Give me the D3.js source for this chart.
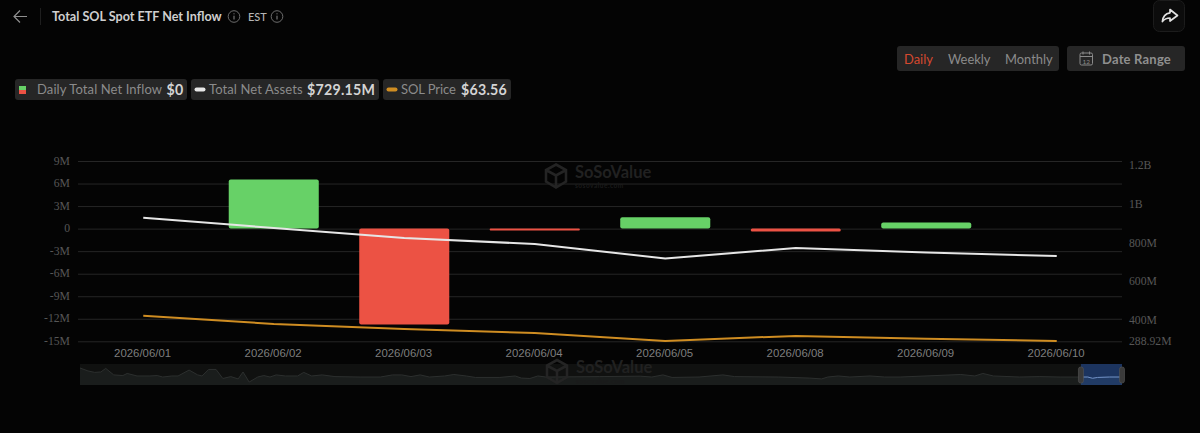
<!DOCTYPE html>
<html>
<head>
<meta charset="utf-8">
<title>Total SOL Spot ETF Net Inflow</title>
<script src="https://cdn.jsdelivr.net/npm/d3@7"></script>
<style>
  html, body { margin: 0; padding: 0; background: #040404; overflow: hidden; }
  svg { display: block; }
  text { font-family: Lato, "Open Sans", sans-serif; }
</style>
</head>
<body>
<svg id="chart" width="1200" height="433"></svg>
<script>
// Daily figures
const dates = ["2026/06/01","2026/06/02","2026/06/03","2026/06/04","2026/06/05","2026/06/08","2026/06/09","2026/06/10"];
const netInflowM = [0, 6.55, -12.75, -0.2, 1.5, -0.4, 0.8, 0];
const netAssetsM = [927, 874, 822, 791, 716, 770, 747, 729.15];
const solPrice = [75.6, 71.7, 69.3, 67.4, 63.6, 66.0, 64.6, 63.56];

// Axis ticks
const inflowTicks = [9, 6, 3, 0, -3, -6, -9, -12, -15];
const assetTicks = [1200, 1000, 800, 600, 400, 288.92];

// Full-history overview strip: day number and relative level
const overviewDays = [0,1.3,2.4,3.4,4.2,5.5,7,7.7,9.3,11.4,12.6,13.5,15,16,17.8,19.2,19.9,21,22.2,23.3,24.6,25.8,26.6,27.6,29,30,31,32,33.5,35.5,36.5,37.8,39.5,41.6,45.7,49,51,52.5,54,55.5,57,59.5,61,63,64.5,68.5,71,72,73.4,74.7,76,84.8,91.4,93.3,95.1,96.6,101,104.9,106.8,114,119,121,122,123.7,125.6,128.9,131.3,133.8,143.7,146,147.3,149,153.3,156.6,159.9,163.3,164.4,165.2,166,168,170];
const overviewLevels = [81,67,60,62,79,48,45,55,43,43,45,38,43,43,71,48,43,74,74,31,40,29,62,14,38,45,38,48,43,43,60,43,48,40,38,38,48,48,40,48,38,43,50,43,36,36,43,33,31,43,38,40,42,38,48,36,38,48,40,38,33,29,38,43,38,43,38,38,50,43,55,43,38,40,38,38,38,32,36,38,38];

// Legend entries
const legendItems = [
  { name: "Daily Total Net Inflow", value: "$0", x: 15, w: 172, nameX: 37, valueX: 166.5 },
  { name: "Total Net Assets", value: "$729.15M", x: 191, w: 188, nameX: 209, valueX: 307 },
  { name: "SOL Price", value: "$63.56", x: 383, w: 128, nameX: 401, valueX: 461 }
];
const periods = [["Daily", 904, "#d5492f"], ["Weekly", 948, "#8b8b8b"], ["Monthly", 1005, "#8b8b8b"]];

const GREEN = "#67d167", RED = "#ec5244", WHITE = "#e6e6e6", ORANGE = "#cf8d22";
const svg = d3.select("#chart");

// Scales
const x = d3.scaleBand().domain(dates).range([78, 1122]);
const yInflow = d3.scaleLinear().domain([-15, 9]).range([341.3, 161]);
const yAssets = d3.scaleLinear().domain([288.92, 1200]).range([341, 165]);
const yPrice = d3.scaleLinear().domain([63.56, 150]).range([341, 160]);
const barW = x.bandwidth() * 0.69;
const cx = d => x(d) + x.bandwidth() / 2;

// Header
const header = svg.append("g");
header.append("path").attr("d", "M27 16.5H14.5M20 10.5l-6 6 6 6")
  .attr("fill", "none").attr("stroke", "#8f8f8f").attr("stroke-width", 1.2);
header.append("line").attr("x1", 40.5).attr("x2", 40.5).attr("y1", 8).attr("y2", 25).attr("stroke", "#1e1e1e");
header.append("text").attr("x", 52).attr("y", 21).attr("font-size", 12.6).attr("font-weight", 700)
  .attr("fill", "#cfcfcf").text("Total SOL Spot ETF Net Inflow");
header.append("text").attr("x", 248).attr("y", 20.5).attr("font-size", 11).attr("font-weight", 500)
  .attr("fill", "#b5b5b5").text("EST");
[234, 277].forEach(c => {
  const g = header.append("g").attr("transform", `translate(${c},16.5)`);
  g.append("circle").attr("r", 5.8).attr("fill", "none").attr("stroke", "#777").attr("stroke-width", 0.9);
  g.append("path").attr("d", "M0 -0.8V3M0 -3.2V-2.2").attr("stroke", "#888").attr("stroke-width", 1);
});

// Share button
svg.append("rect").attr("x", 1153.5).attr("y", 0.5).attr("width", 31).attr("height", 31).attr("rx", 6)
  .attr("fill", "#0c0c0c").attr("stroke", "#1c1c1c");
svg.append("path").attr("d", "M1170 9.5l7.5 6-7.5 5.5v-3c-3.4 0-5.6 1-7.6 3.6 .4-4.8 3.2-8.2 7.6-8.8z")
  .attr("fill", "none").attr("stroke", "#e2e2e2").attr("stroke-width", 1.7).attr("stroke-linejoin", "round");

// Period switch and date range
svg.append("rect").attr("x", 897).attr("y", 46).attr("width", 162).attr("height", 25).attr("rx", 3).attr("fill", "#262626");
periods.forEach(([label, px, col]) => {
  svg.append("text").attr("x", px).attr("y", 64).attr("font-size", 12.9).attr("fill", col).text(label);
});
svg.append("rect").attr("x", 1067).attr("y", 46).attr("width", 118).attr("height", 25).attr("rx", 3).attr("fill", "#262626");
const cal = svg.append("g").attr("fill", "none").attr("stroke", "#8a8a8a").attr("stroke-width", 1);
cal.append("rect").attr("x", 1080).attr("y", 53).attr("width", 12.5).attr("height", 12).attr("rx", 1.5);
cal.append("path").attr("d", "M1080 56.5H1092.5M1083 51.5V54.5M1089.5 51.5V54.5");
svg.append("text").attr("x", 1086.2).attr("y", 64).attr("text-anchor", "middle").attr("font-size", 6.5)
  .attr("fill", "#8a8a8a").text("12");
svg.append("text").attr("x", 1102).attr("y", 64).attr("font-size", 13).attr("font-weight", 700)
  .attr("letter-spacing", 0.2).attr("fill", "#8f8f8f").text("Date Range");

// Legend pills
legendItems.forEach((d, i) => {
  svg.append("rect").attr("x", d.x).attr("y", 79).attr("width", d.w).attr("height", 21).attr("rx", 3).attr("fill", "#262626");
  svg.append("text").attr("x", d.nameX).attr("y", 94).attr("font-size", 13).attr("letter-spacing", i === 2 ? -0.1 : 0.1)
    .attr("fill", "#8b8b8b").text(d.name);
  svg.append("text").attr("x", d.valueX).attr("y", 94.5).attr("font-size", 14.2).attr("font-weight", 700)
    .attr("letter-spacing", 0.25).attr("fill", "#d4d4d4").text(d.value);
  if (i === 0) {
    svg.append("rect").attr("x", 19).attr("y", 86).attr("width", 7).attr("height", 4).attr("fill", GREEN);
    svg.append("rect").attr("x", 19).attr("y", 90).attr("width", 7).attr("height", 4).attr("fill", RED);
  } else {
    svg.append("rect").attr("x", d.x + 3.5).attr("y", 87.5).attr("width", 11).attr("height", 4).attr("rx", 2)
      .attr("fill", i === 1 ? WHITE : ORANGE);
  }
});

// Brand mark, used in the plot and on the overview strip
function brandMark(tx, ty) {
  const g = svg.append("g").attr("transform", `translate(${tx},${ty})`);
  g.append("path").attr("d", "M10 0L20 5.5V17L10 23L0 17V5.5Z M0 5.5L10 11L20 5.5 M10 11V23")
    .attr("fill", "none").attr("stroke", "#242424").attr("stroke-width", 2.6);
  g.append("text").attr("x", 29).attr("y", 13).attr("font-size", 16.5).attr("font-weight", 700)
    .attr("fill", "#212121").text("SoSoValue");
  g.append("text").attr("x", 29).attr("y", 23.5).attr("font-size", 6.5).attr("font-weight", 700)
    .attr("letter-spacing", 0.5).attr("fill", "#1b1b1b").text("sosovalue.com");
}

// Axes with horizontal grid
const leftAxis = svg.append("g").attr("transform", "translate(78,0)")
  .call(d3.axisLeft(yInflow).tickValues(inflowTicks).tickSize(-1044).tickPadding(8)
    .tickFormat(d => d === 0 ? "0" : d + "M"));
leftAxis.select(".domain").remove();
leftAxis.selectAll("line").attr("stroke", "#262626").attr("stroke-width", 1);
leftAxis.selectAll("text").attr("fill", "#565656").attr("font-size", 11.7).attr("y", -0.7)
  .style("font-family", "'Liberation Serif', serif");

const rightAxis = svg.append("g").attr("transform", "translate(1122,0)")
  .call(d3.axisRight(yAssets).tickValues(assetTicks).tickSize(0).tickPadding(7)
    .tickFormat(d => d >= 1000 ? (d / 1000) + "B" : d + "M"));
rightAxis.select(".domain").remove();
rightAxis.selectAll("text").attr("fill", "#565656").attr("font-size", 11.7)
  .style("font-family", "'Liberation Serif', serif");

const bottomAxis = svg.append("g").attr("transform", "translate(-0.7,341)")
  .call(d3.axisBottom(x).tickSize(0).tickPadding(7.5));
bottomAxis.select(".domain").remove();
bottomAxis.selectAll("text").attr("fill", "#7e7e7e").attr("font-size", 11.4)
  .style("font-family", "'Liberation Sans', sans-serif");

brandMark(546, 164.5);

// Net inflow bars
svg.append("g").selectAll("rect")
  .data(dates.map((d, i) => ({ d, v: netInflowM[i] })).filter(e => e.v !== 0))
  .join("rect")
  .attr("x", e => cx(e.d) - barW / 2)
  .attr("width", barW)
  .attr("y", e => Math.min(yInflow(e.v), yInflow(0)))
  .attr("height", e => Math.max(Math.abs(yInflow(e.v) - yInflow(0)), 2))
  .attr("rx", e => Math.min(2, Math.abs(yInflow(e.v) - yInflow(0)) / 2))
  .attr("fill", e => e.v > 0 ? GREEN : RED);

// Net assets and price lines
const drawLine = (values, scale, colour, width) => svg.append("path")
  .datum(values)
  .attr("fill", "none").attr("stroke", colour).attr("stroke-width", width)
  .attr("d", d3.line().x((_, i) => cx(dates[i])).y(v => scale(v)));
drawLine(netAssetsM, yAssets, WHITE, 2);
drawLine(solPrice, yPrice, ORANGE, 2);

// Overview strip
const stripX = d3.scaleLinear().domain([0, 170]).range([80, 1122]);
const stripY = d3.scaleLinear().domain([0, 100]).range([385, 364]);
const strip = svg.append("g");
strip.append("rect").attr("x", stripX(0)).attr("y", stripY(100)).attr("width", stripX(170) - stripX(0))
  .attr("height", stripY(0) - stripY(100)).attr("fill", "#101110");
strip.append("path").datum(overviewLevels)
  .attr("fill", "#1a1d1c").attr("stroke", "none")
  .attr("d", d3.area().x((_, i) => stripX(overviewDays[i])).y0(stripY(0)).y1(v => stripY(v)));
strip.append("path").datum(overviewLevels)
  .attr("fill", "none").attr("stroke", "#2c2f2e").attr("stroke-width", 1)
  .attr("d", d3.line().x((_, i) => stripX(overviewDays[i])).y(v => stripY(v)));

// Selected window on the strip
const windowStart = stripX(163.3), windowEnd = stripX(170);
strip.append("rect").attr("x", windowStart).attr("y", 364).attr("width", windowEnd - windowStart).attr("height", 21)
  .attr("fill", "#2a5cb5").attr("fill-opacity", 0.48);
strip.append("path").datum(overviewLevels.slice(-6))
  .attr("fill", "none").attr("stroke", "#6f8fc4").attr("stroke-width", 1)
  .attr("d", d3.line().x((_, i) => stripX(overviewDays[overviewDays.length - 6 + i])).y(v => stripY(v)));
[windowStart, windowEnd].forEach(hx => {
  strip.append("rect").attr("x", hx - 2.5).attr("y", 367).attr("width", 5).attr("height", 16).attr("rx", 2.2)
    .attr("fill", "#3a3a3a").attr("stroke", "#555").attr("stroke-width", 0.6);
});

brandMark(547, 360);
</script>
</body>
</html>
